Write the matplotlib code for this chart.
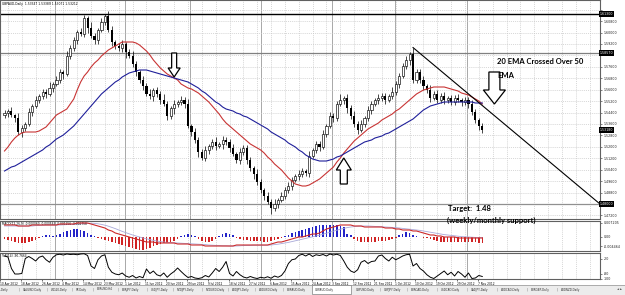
import numpy as np
import matplotlib
matplotlib.use("Agg")
import matplotlib.pyplot as plt
from matplotlib.patches import Polygon, Rectangle
from matplotlib.transforms import IdentityTransform
from matplotlib.ticker import MultipleLocator, FormatStrFormatter

W, H = 625, 295

# ---- data (prices in pips, i.e. price * 1e4) ----
first_open = 15420
close_pips = [
    15437, 15451, 15423, 15402, 15304, 15332, 15360, 15444, 15486, 15528,
    15556, 15584, 15570, 15612, 15640, 15668, 15724, 15710, 15836, 15892,
    15948, 16004, 15990, 16102, 16032, 15976, 15948, 16018, 16074, 16116,
    16018, 15934, 15906, 15892, 15920, 15864, 15836, 15780, 15724, 15668,
    15626, 15570, 15556, 15598, 15570, 15528, 15500, 15416, 15472, 15500,
    15514, 15528, 15500, 15346, 15304, 15248, 15164, 15122, 15178, 15206,
    15234, 15206, 15220, 15248, 15234, 15192, 15150, 15108, 15164, 15192,
    15108, 15052, 15010, 14954, 14898, 14856, 14814, 14772, 14800, 14828,
    14856, 14898, 14926, 14968, 14996, 15010, 15030, 15020, 15136, 15178,
    15220, 15200, 15290, 15346, 15416, 15400, 15500, 15528, 15542, 15472,
    15416, 15360, 15318, 15360, 15402, 15458, 15500, 15528, 15542, 15556,
    15528, 15556, 15584, 15640, 15694, 15764, 15806, 15850, 15668, 15724,
    15668, 15626, 15598, 15542, 15570, 15528, 15556, 15528, 15542, 15514,
    15542, 15528, 15514, 15528, 15500, 15444, 15388, 15346, 15318]
up_wick = [
    21, 14, 28, 10, 35, 18, 12, 25, 16, 30, 12, 22, 18, 40, 15, 26, 20, 14, 33, 18,
    24, 15, 30, 22, 12, 45, 20, 16, 28, 14, 38, 25, 12, 20, 30, 16, 22, 35, 18, 14,
    26, 20, 32, 15, 24, 18, 40, 22, 14, 30, 16, 25, 20, 35, 12, 28, 22, 18, 30, 15,
    20, 34, 16, 25, 18, 22, 30, 14, 26, 20, 18, 24, 15, 32, 20, 16, 28, 22, 35, 14,
    25, 18, 30, 20, 15, 26, 22, 18, 34, 16, 24, 20, 28, 15, 30, 22, 18, 40, 14, 26,
    20, 32, 18, 25, 15, 28, 22, 16, 30, 20, 24, 14, 35, 18, 26, 20, 30, 16, 45, 22,
    18, 28, 15, 32, 20, 25, 18, 30, 14, 24, 20, 28, 16, 22, 18, 30, 24, 15, 20]
dn_wick = [
    15, 30, 12, 25, 20, 35, 18, 14, 28, 16, 22, 18, 30, 14, 26, 12, 20, 32, 16, 24,
    18, 28, 14, 20, 35, 16, 25, 30, 12, 22, 16, 30, 24, 18, 28, 40, 14, 22, 26, 18,
    30, 14, 22, 36, 18, 25, 16, 28, 20, 45, 24, 18, 30, 16, 26, 20, 35, 14, 22, 28,
    18, 25, 14, 32, 20, 28, 16, 24, 30, 18, 26, 20, 35, 18, 24, 30, 16, 40, 22, 28,
    14, 24, 20, 30, 16, 26, 18, 22, 28, 16, 20, 30, 18, 24, 14, 28, 22, 16, 30, 35,
    18, 24, 30, 16, 22, 20, 28, 14, 26, 18, 30, 16, 24, 20, 28, 14, 22, 35, 18, 24,
    20, 26, 18, 30, 16, 24, 20, 28, 22, 18, 24, 16, 30, 20, 26, 18, 22, 28, 20]
ema20_pips = [
    15171, 15199, 15234, 15262, 15283, 15297, 15304, 15304, 15304, 15304,
    15311, 15325, 15339, 15367, 15395, 15423, 15437, 15451, 15465, 15500,
    15535, 15598, 15654, 15696, 15724, 15759, 15787, 15808, 15836, 15857,
    15878, 15892, 15906, 15920, 15934, 15934, 15934, 15934, 15927, 15913,
    15892, 15871, 15843, 15808, 15780, 15752, 15731, 15710, 15696, 15682,
    15668, 15640, 15626, 15612, 15605, 15591, 15577, 15556, 15535, 15514,
    15486, 15458, 15430, 15395, 15367, 15346, 15325, 15304, 15283, 15262,
    15241, 15220, 15206, 15192, 15178, 15157, 15129, 15108, 15080, 15059,
    15038, 15010, 14982, 14961, 14940, 14933, 14926, 14926, 14933, 14947,
    14961, 14975, 14996, 15017, 15038, 15059, 15094, 15122, 15157, 15185,
    15213, 15241, 15262, 15283, 15304, 15325, 15339, 15353, 15367, 15388,
    15402, 15416, 15430, 15451, 15465, 15486, 15507, 15528, 15549, 15570,
    15584, 15598, 15605, 15612, 15619, 15619, 15619, 15619, 15612, 15605,
    15598, 15591, 15577, 15570, 15563, 15549, 15535, 15521, 15500]
ema50_pips = [
    15031, 15045, 15059, 15066, 15080, 15094, 15108, 15122, 15136, 15150,
    15164, 15178, 15199, 15213, 15234, 15255, 15269, 15283, 15304, 15325,
    15346, 15374, 15402, 15430, 15458, 15486, 15514, 15542, 15570, 15591,
    15612, 15633, 15654, 15668, 15689, 15703, 15717, 15724, 15731, 15738,
    15738, 15738, 15731, 15724, 15717, 15710, 15703, 15696, 15689, 15682,
    15675, 15668, 15661, 15654, 15640, 15626, 15612, 15591, 15577, 15556,
    15535, 15514, 15500, 15479, 15465, 15458, 15451, 15437, 15430, 15416,
    15409, 15395, 15381, 15367, 15353, 15339, 15325, 15304, 15290, 15276,
    15262, 15248, 15227, 15213, 15199, 15178, 15164, 15143, 15129, 15115,
    15108, 15101, 15101, 15101, 15108, 15115, 15129, 15136, 15150, 15164,
    15178, 15192, 15206, 15220, 15234, 15241, 15248, 15262, 15269, 15276,
    15290, 15297, 15311, 15325, 15339, 15353, 15367, 15381, 15395, 15416,
    15437, 15458, 15472, 15486, 15493, 15500, 15507, 15514, 15514, 15514,
    15514, 15514, 15514, 15514, 15514, 15514, 15507, 15507, 15507]

# MACD panel (units of 1e-4)
macd_hist = [
    -10, -15, -20, -25, -30, -30, -30, -25, -20, -15, -5, 5, 10, 10, 5, 10, 15, 25, 30, 35,
    40, 40, 35, 30, 20, 10, 5, -5, -10, -15, -20, -25, -30, -35, -40, -45, -50, -55, -60, -65,
    -65, -60, -55, -45, -40, -35, -30, -30, -25, -20, -10, 5, 10, 15, 10, 5, -10, -20, -25, -25,
    -20, -10, 5, 15, 20, 15, 10, -5, -10, -15, -15, -20, -20, -20, -20, -25, -25, -20, -15, -10,
    -5, 5, 10, 20, 25, 30, 35, 40, 45, 50, 55, 60, 60, 60, 60, 60, 60, 55, 50, 15,
    10, -10, -20, -25, -25, -25, -25, -25, -20, -20, -20, -15, -10, -5, 10, 15, 25, 20, 10, 5,
    0, -5, -5, -10, -15, -20, -25, -25, -25, -25, -25, -25, -25, -25, -25, -25, -25, -30, -30]
macd_line = [
    60, 60, 60, 60, 55, 55, 55, 55, 60, 60, 60, 60, 60, 60, 60, 60, 65, 65, 65, 65,
    65, 70, 70, 70, 70, 65, 60, 55, 50, 45, 35, 30, 20, 15, 10, 5, 0, -5, -10, -15,
    -20, -25, -25, -25, -30, -30, -30, -30, -30, -30, -35, -35, -35, -35, -40, -40, -40, -40, -45, -45,
    -45, -45, -45, -45, -45, -45, -45, -40, -40, -40, -40, -40, -40, -40, -40, -40, -40, -35, -30, -25,
    -25, -20, -15, -10, -5, 0, 0, 5, 10, 15, 15, 20, 30, 40, 45, 50, 55, 60, 60, 60,
    60, 55, 55, 55, 50, 50, 50, 50, 50, 50, 45, 45, 45, 40, 40, 35, 35, 35, 30, 30,
    25, 20, 15, 10, 10, 5, 5, 0, 0, 0, 0, -5, -5, -5, -5, -5, -5, -5, -5]
macd_signal = [
    55, 55, 55, 55, 55, 55, 55, 55, 55, 57, 58, 59, 60, 60, 60, 60, 60, 61, 62, 63,
    64, 65, 66, 67, 68, 69, 68, 66, 63, 59, 54, 48, 42, 35, 28, 22, 16, 10, 5, 0,
    -5, -9, -13, -17, -20, -23, -25, -27, -28, -29, -30, -31, -32, -33, -34, -35, -36, -37, -38, -40,
    -41, -42, -43, -44, -44, -45, -45, -45, -44, -43, -42, -42, -41, -41, -41, -41, -41, -40, -38, -36,
    -33, -30, -27, -23, -19, -15, -11, -7, -3, 1, 5, 9, 14, 19, 24, 29, 34, 39, 43, 47,
    50, 52, 54, 55, 55, 55, 54, 53, 52, 51, 50, 49, 48, 47, 45, 43, 41, 39, 37, 35,
    33, 30, 27, 24, 21, 18, 15, 12, 10, 8, 6, 4, 2, 1, 0, -1, -2, -3, -3]
# Williams %R panel
wpr = [
    -10, -14, -60, -82, -82, -80, -20, -12, -20, -30, -15, -10, -25, -35, -15, -5, -3, -6, -2, -4,
    -3, -5, -2, -1, -8, -50, -60, -25, -10, -5, -55, -75, -82, -85, -78, -90, -95, -88, -98, -92,
    -97, -62, -80, -70, -85, -90, -78, -95, -82, -72, -58, -72, -85, -96, -92, -98, -100, -97, -88, -94,
    -78, -60, -72, -55, -32, -80, -90, -72, -85, -94, -98, -92, -97, -100, -95, -98, -93, -99, -90, -95,
    -88, -70, -40, -25, -22, -8, -3, -10, -2, -12, -5, -8, -4, -10, -2, -6, -3, -8, -30, -55,
    -70, -76, -65, -35, -28, -40, -32, -30, -10, -6, -20, -30, -15, -25, -18, -10, -5, -3, -50, -40,
    -60, -70, -85, -95, -100, -90, -80, -70, -85, -75, -90, -72, -82, -95, -78, -100, -98, -88, -92]

levels = [1.6130, 1.5857, 1.4800]
target_level = 1.4800
date_labels = ["10 Apr 2012", "18 Apr 2012", "26 Apr 2012", "4 May 2012", "14 May 2012",
               "23 May 2012", "1 Jun 2012", "11 Jun 2012", "20 Jun 2012", "29 Jun 2012",
               "9 Jul 2012", "18 Jul 2012", "27 Jul 2012", "6 Aug 2012", "15 Aug 2012",
               "24 Aug 2012", "3 Sep 2012", "12 Sep 2012", "21 Sep 2012", "1 Oct 2012",
               "10 Oct 2012", "19 Oct 2012", "29 Oct 2012", "7 Nov 2012"]
tabs = ["USDTRY,Daily", "XAUUSD,Daily", "WIG20,Daily", "SP,Daily", "EURUSD,H4",
        "EURJPY,Daily", "USDJPY,Daily", "NZDJPY,Daily", "NZDUSD,Daily", "AUDJPY,Daily",
        "AUDUSD,Daily", "EURAUD,Daily", "GBPAUD,Daily", "GBPUSD,Daily", "GBPJPY,Daily",
        "EURCAD,Daily", "USDCAD,Daily", "CADJPY,Daily", "AUDCAD,Daily", "EURGBP,Daily",
        "AUDNZD,Daily"]
active_tab = "GBPAUD,Daily"

closes = np.array(close_pips) / 1e4
opens = np.r_[first_open / 1e4, closes[:-1]]
highs = np.maximum(opens, closes) + np.array(up_wick) / 1e4
lows = np.minimum(opens, closes) - np.array(dn_wick) / 1e4
ema20 = np.array(ema20_pips) / 1e4
ema50 = np.array(ema50_pips) / 1e4
hist = np.array(macd_hist) / 1e4
mline = np.array(macd_line) / 1e4
msig = np.array(macd_signal) / 1e4
n = len(closes)
bars = np.arange(n)

# ---- layout ----
fig = plt.figure(figsize=(W / 100, H / 100), dpi=100)
fig.patch.set_facecolor('white')


def fbox(x0, y0, x1, y1):
    return [x0 / W, 1 - y1 / H, (x1 - x0) / W, (y1 - y0) / H]


def fx(x):
    return x / W


def fy(y):
    return 1 - y / H


ax = fig.add_axes(fbox(0, 0, 600, 219))
axm = fig.add_axes(fbox(0, 221, 600, 251), sharex=ax)
axw = fig.add_axes(fbox(0, 253, 600, 279), sharex=ax)

XR = 172.0
ax.set_xlim(-0.43, XR)
ax.set_ylim(1.4695, 1.6228)
axm.set_ylim(-0.0070, 0.0080)
axw.set_ylim(-102, 2)

grid_kw = dict(color='#c8c8c8', lw=0.5, ls=(0, (1.5, 1.5)))
month_sep = [14.5, 34.7, 53.6, 74.0, 94.6, 112.8, 133.6]
for a in (ax, axm, axw):
    a.set_facecolor('white')
    for sp in a.spines.values():
        sp.set_color('#606060')
        sp.set_linewidth(0.8)
    for gx in np.arange(1, XR, 4):
        a.axvline(gx, zorder=0, **grid_kw)
    for sx in month_sep:
        a.axvline(sx, color='#a8a8a8', lw=0.7, zorder=0.5)
    a.yaxis.tick_right()
    a.tick_params(axis='y', labelsize=2.3, length=1.5, width=0.4, pad=1, colors='#202020')
    a.tick_params(axis='x', length=0, labelbottom=False)

# main price panel
ax.yaxis.set_major_locator(MultipleLocator(0.008))
ax.yaxis.set_major_formatter(FormatStrFormatter('%.5f'))
ax.grid(axis='y', **grid_kw)
ax.set_axisbelow(True)

ax.axhline(levels[0], color='black', lw=1.0, zorder=1)
ax.axhline(levels[1], color='#808080', lw=0.9, zorder=1)
ax.axhline(levels[2], color='#909090', lw=0.9, zorder=1)

rising = closes >= opens
ax.vlines(bars, lows, highs, color='black', lw=0.5, zorder=2)
ax.bar(bars[rising], (closes - opens)[rising], bottom=opens[rising], width=0.62,
       facecolor='white', edgecolor='black', lw=0.45, zorder=3)
ax.bar(bars[~rising], (opens - closes)[~rising], bottom=closes[~rising], width=0.62,
       color='black', lw=0, zorder=3)

ax.plot(bars, ema20, color='#c83434', lw=0.8, zorder=4)
ax.plot(bars, ema50, color='#1f1f9a', lw=0.8, zorder=4)

# trend line from October top to the target
peak = 100 + int(np.argmax(highs[100:]))
ax.plot([peak, XR], [highs[peak], target_level], color='black', lw=0.8, zorder=4,
        clip_on=False)

ax.text(0.004, 0.993, "GBPAUD,Daily  1.53347 1.53389 1.53071 1.53212",
        transform=ax.transAxes, fontsize=2.2, va='top', ha='left')

boxed = [levels[0], levels[1], closes[-1], levels[2]]
for lv in boxed:
    ax.text(1.0, lv, f"{lv:.5f}", transform=ax.get_yaxis_transform(),
            fontsize=2.3, color='white', va='center', ha='left',
            bbox=dict(boxstyle='square,pad=0.25', fc='black', ec='black', lw=0),
            clip_on=False, zorder=6)

# MACD panel
hcol = np.where(hist >= 0, '#2424c8', '#d02424')
axm.bar(bars, hist, width=0.45, color=hcol, lw=0, zorder=2)
axm.plot(bars, msig, color='#a8a8d8', lw=0.6, zorder=3)
axm.plot(bars, mline, color='#cc2a2a', lw=0.8, zorder=4)
axm.set_yticks([0.0072, 0.0, -0.0046])
axm.set_yticklabels(["0.007205", "0.00", "-0.004464"])
axm.text(0.004, 0.97, "MACD(12,26,9) -0.000060 -0.000563 -0.001256 -0.002758",
         transform=axm.transAxes, fontsize=2.1, va='top', ha='left')

# Williams %R panel
axw.plot(bars, wpr, color='black', lw=0.7, zorder=3)
axw.set_yticks([-20, -80, -100])
axw.set_yticklabels(["-20", "-80", "-100"])
axw.text(0.004, 0.97, "%R(14) -90.7664", transform=axw.transAxes,
         fontsize=2.1, va='top', ha='left')

label_pos = [6 * k - 1.3 for k in range(len(date_labels))]
axw.set_xticks(label_pos)
axw.set_xticklabels(date_labels)
axw.tick_params(axis='x', labelbottom=True, length=1.5, width=0.4, labelsize=2.1, pad=0.8)
for lab in axw.get_xticklabels():
    lab.set_ha('left')

# ---- arrows and notes ----
fig.canvas.draw()

# hide the price labels that sit under the black level boxes
for val, lab in zip(ax.get_yticks(), ax.get_yticklabels()):
    if min(abs(val - b) for b in boxed) < 0.0035:
        lab.set_visible(False)

ident = IdentityTransform()


def block_arrow(tip, down, head_w, shaft_w, head_len, length):
    x, y = tip
    s = 1 if down else -1
    pts = [(x, y), (x - head_w / 2, y + s * head_len), (x - shaft_w / 2, y + s * head_len),
           (x - shaft_w / 2, y + s * length), (x + shaft_w / 2, y + s * length),
           (x + shaft_w / 2, y + s * head_len), (x + head_w / 2, y + s * head_len)]
    fig.add_artist(Polygon(pts, closed=True, facecolor='white', edgecolor='black',
                           lw=0.9, transform=ident, zorder=10))


tx, ty = ax.transData.transform((49, ema20[49]))
block_arrow((tx, ty + 1), True, 12, 5, 9, 24)
tx, ty = ax.transData.transform((98, ema50[98]))
block_arrow((tx, ty - 4), False, 15, 7, 12, 26)
tx, ty = ax.transData.transform((n + 2.5, ema20[-1]))
block_arrow((tx, ty), True, 22, 11, 14, 32)

note_kw = dict(fontsize=5.5, fontweight='bold', family=['Lato', 'DejaVu Sans'],
               va='center', ha='left', zorder=11)
fig.text(fx(497), fy(62), "20 EMA Crossed Over 50", **note_kw)
fig.text(fx(497), fy(75), "EMA", **note_kw)
fig.text(fx(448), fy(209), "Target:  1.48", **note_kw)
fig.text(fx(447), fy(220), "(weekly/monthly support)", **note_kw)

# ---- tab bar ----
fig.add_artist(Rectangle((0, 0), 1, fy(285), transform=fig.transFigure,
                         facecolor='#ececec', edgecolor='none', zorder=1))
fig.add_artist(plt.Line2D([0, 1], [fy(285), fy(285)], color='#a0a0a0', lw=0.6,
                          transform=fig.transFigure, zorder=2))
tab_edges = [-14, 19, 47, 72, 93, 118, 147, 173, 202, 228, 255, 283, 311, 352,
             380, 407, 437, 467, 497, 527, 557, 587]
for i, name in enumerate(tabs):
    x0, x1 = tab_edges[i], tab_edges[i + 1]
    if name == active_tab:
        fig.add_artist(Rectangle((fx(x0 + 1), fy(294)), (x1 - x0 - 2) / W, 9.5 / H,
                                 transform=fig.transFigure, facecolor='white',
                                 edgecolor='#808080', lw=0.5, zorder=3))
    fig.text(fx(x0 + 4), fy(289.5), name, fontsize=2.0, va='center', ha='left',
             color='#303030', zorder=4)
    if name != active_tab and i + 1 < len(tab_edges) - 1 and tabs[i + 1] != active_tab:
        fig.text(fx(x1), fy(289.5), "|", fontsize=2.4, va='center', ha='center',
                 color='#707070', zorder=4)
fig.text(fx(620), fy(289.5), "\u25c4 \u25ba", fontsize=2.0, va='center', ha='center',
         color='#404040', zorder=4)

fig.savefig("out.png", dpi=100, facecolor='white')
